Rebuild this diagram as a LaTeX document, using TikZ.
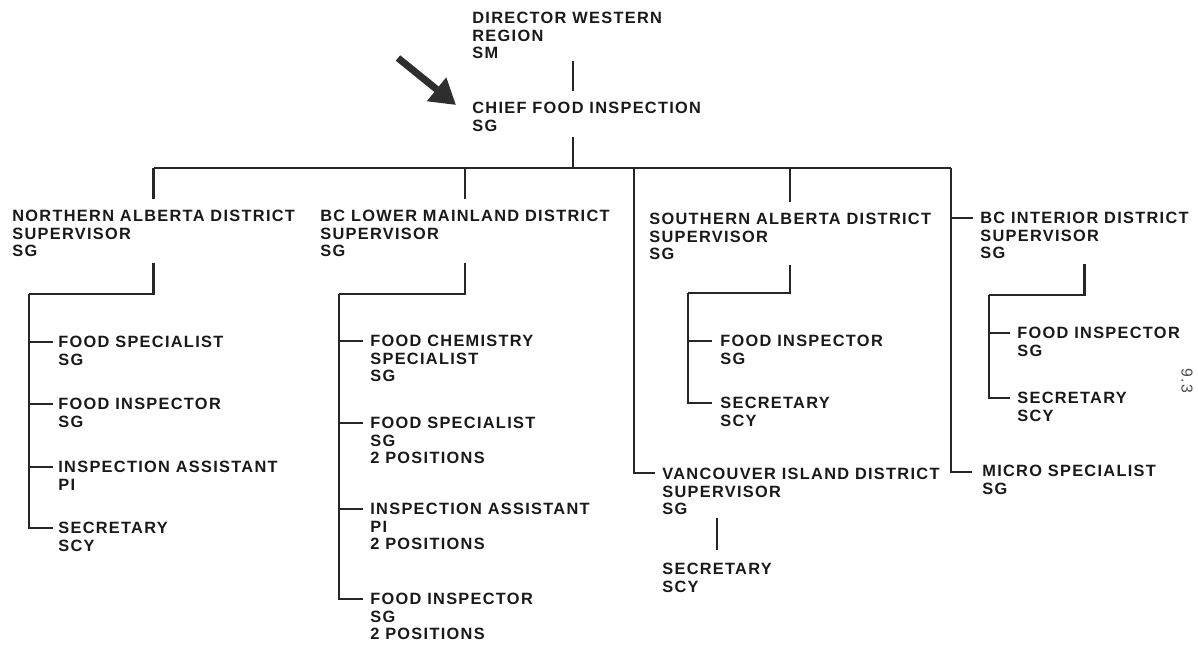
\documentclass[tikz,border=0pt]{standalone}
\usepackage{fontspec}
\setmainfont{Liberation Sans}[LetterSpace=8]
\usetikzlibrary{arrows.meta,calc}
\newcommand\chartfont{\fontsize{9.3}{9.96}\selectfont\bfseries}

\tikzset{
  post/.style={anchor=north west, inner sep=0pt, align=left, font=\chartfont, text=black!90},
  link/.style={draw=black!85, line width=1.4pt},
}

\begin{document}
\begin{tikzpicture}[x=0.02cm, y=-0.02cm]
  % canvas
  \fill[white] (0,0) rectangle (1198,647);
  \useasboundingbox (0,0) rectangle (1198,647);

  % head office
  \node[post] (dir)   at (472,12)  {DIRECTOR WESTERN\\REGION\\SM};
  \node[post] (chief) at (472,102) {CHIEF FOOD INSPECTION\\SG};

  % district supervisors
  \node[post] (na)    at (12,210)  {NORTHERN ALBERTA DISTRICT\\SUPERVISOR\\SG};
  \node[post] (bclm)  at (320,210) {BC LOWER MAINLAND DISTRICT\\SUPERVISOR\\SG};
  \node[post] (sa)    at (649,213) {SOUTHERN ALBERTA DISTRICT\\SUPERVISOR\\SG};
  \node[post] (bci)   at (980,212) {BC INTERIOR DISTRICT\\SUPERVISOR\\SG};
  \node[post] (vi)    at (662,468) {VANCOUVER ISLAND DISTRICT\\SUPERVISOR\\SG};
  \node[post] (vis)   at (662,563) {SECRETARY\\SCY};
  \node[post] (micro) at (982,465) {MICRO SPECIALIST\\SG};

  % Northern Alberta staff
  \node[post] (na1) at (58,336) {FOOD SPECIALIST\\SG};
  \node[post] (na2) at (58,398) {FOOD INSPECTOR\\SG};
  \node[post] (na3) at (58,461) {INSPECTION ASSISTANT\\PI};
  \node[post] (na4) at (58,522) {SECRETARY\\SCY};

  % BC Lower Mainland staff
  \node[post] (lm1) at (370,335) {FOOD CHEMISTRY\\SPECIALIST\\SG};
  \node[post] (lm2) at (370,417) {FOOD SPECIALIST\\SG\\2 POSITIONS};
  \node[post] (lm3) at (370,503) {INSPECTION ASSISTANT\\PI\\2 POSITIONS};
  \node[post] (lm4) at (370,593) {FOOD INSPECTOR\\SG\\2 POSITIONS};

  % Southern Alberta staff
  \node[post] (sa1) at (720,335) {FOOD INSPECTOR\\SG};
  \node[post] (sa2) at (720,397) {SECRETARY\\SCY};

  % BC Interior staff
  \node[post] (bi1) at (1017,327) {FOOD INSPECTOR\\SG};
  \node[post] (bi2) at (1017,392) {SECRETARY\\SCY};

  % junctions
  \coordinate (bar)      at (573,168);
  \coordinate (westrail) at (634,168);
  \coordinate (eastrail) at (951,168);
  \coordinate (naj) at (29,294);
  \coordinate (lmj) at (339,294);
  \coordinate (saj) at (688,293);
  \coordinate (bij) at (989,295);

  % top of the chart
  \draw[link] ($(chief.north -| bar)+(0,-11)$) -- ($(dir.south -| bar)+(0,2)$);
  \draw[link] ($(chief.south -| bar)+(0,5)$) -- (bar);
  \draw[link] (na.north |- bar) -- (eastrail);
  \foreach \s in {na,bclm,sa}
    \draw[link] (\s.north |- bar) -- ($(\s.north)+(0,-11)$);
  \draw[link] (westrail) |- ($(vi.north west)+(-7,5)$);
  \draw[link] (eastrail) |- ($(micro.north west)+(-10,7)$);
  \draw[link] ($(bci.north west)+(-7,6)$) -| (eastrail);

  % Northern Alberta branch
  \draw[link] ($(na.south)+(0,6)$) |- (naj);
  \foreach \c in {na1,na2,na3,na4}
    \draw[link] ($(\c.north west)+(-5,6)$) -| (naj);

  % BC Lower Mainland branch
  \draw[link] ($(bclm.south)+(0,6)$) |- (lmj);
  \foreach \c in {lm1,lm2,lm3,lm4}
    \draw[link] ($(\c.north west)+(-7,6)$) -| (lmj);

  % Southern Alberta branch
  \draw[link] ($(sa.south)+(0,5)$) |- (saj);
  \foreach \c in {sa1,sa2}
    \draw[link] ($(\c.north west)+(-8,6)$) -| (saj);

  % BC Interior branch
  \draw[link] ($(bci.south)+(0,5)$) |- (bij);
  \foreach \c in {bi1,bi2}
    \draw[link] ($(\c.north west)+(-7,6)$) -| (bij);

  % Vancouver Island branch
  \draw[link] ($(vis.north)+(0,-13)$) -- ($(vis.north |- vi.south)+(0,3)$);

  % pointer arrow
  \coordinate (arrowtail) at (398,58);
  \coordinate (arrowtip)  at (456,105);
  \draw[black!82, line width=0.14cm, -{Triangle[length=0.5cm,width=0.58cm]}] (arrowtail) -- (arrowtip);

  % page number
  \node[rotate=-90, inner sep=0pt, font=\fontsize{9}{10}\selectfont, text=black!70] (pageno) at (1187,381) {9.3};
\end{tikzpicture}
\end{document}
